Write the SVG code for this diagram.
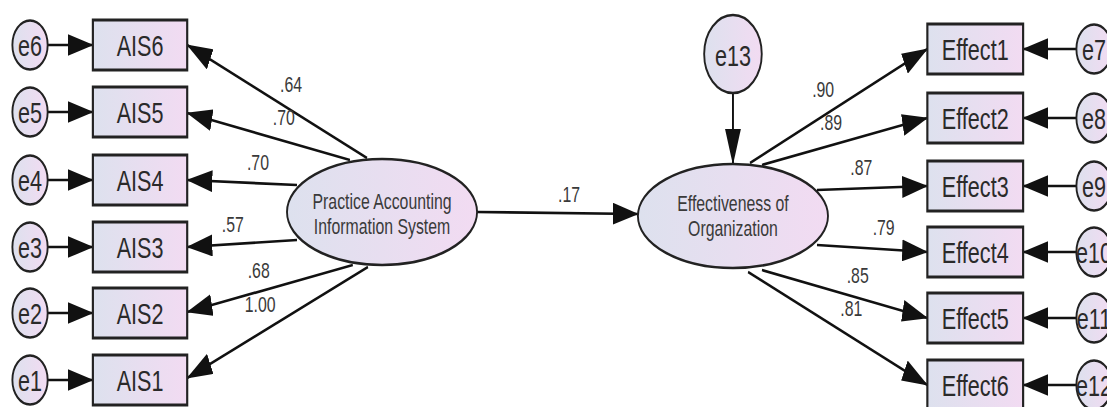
<svg xmlns="http://www.w3.org/2000/svg" width="1107" height="407" viewBox="0 0 1107 407">
<defs>
<linearGradient id="fill" x1="0" y1="0" x2="1" y2="0">
<stop offset="0" stop-color="#dde1ee"/>
<stop offset="1" stop-color="#f2dbf2"/>
</linearGradient>
<marker id="arr" markerUnits="userSpaceOnUse" markerWidth="36" markerHeight="22" viewBox="0 0 36 22" refX="35" refY="11" orient="auto">
<path d="M0,0 L36,11 L0,22 z" fill="#111"/>
</marker>
<style>
.box{fill:url(#fill);stroke:#222;stroke-width:3}
.ell{fill:url(#fill);stroke:#222;stroke-width:2.6}
.lbl{font-family:"Liberation Sans",Arial,sans-serif;font-size:30px;fill:#2a2a2a;text-anchor:middle}
.lat{font-family:"Liberation Sans",Arial,sans-serif;font-size:22px;fill:#3a3a3a;text-anchor:middle}
.num{font-family:"Liberation Sans",Arial,sans-serif;font-size:22px;fill:#3a3a3a}
.con line{stroke:#111;stroke-width:2.7;marker-end:url(#arr)}
</style>
</defs>
<rect width="1107" height="407" fill="#fff"/>
<g transform="scale(0.72,1)">
<g id="connectors" class="con">
<line x1="66" y1="45" x2="129" y2="45"/>
<line x1="66" y1="112" x2="129" y2="112"/>
<line x1="66" y1="180" x2="129" y2="180"/>
<line x1="66" y1="247" x2="129" y2="247"/>
<line x1="66" y1="313" x2="129" y2="313"/>
<line x1="66" y1="380" x2="129" y2="380"/>
<line x1="509.7" y1="158" x2="260" y2="45"/>
<line x1="486" y1="160" x2="260" y2="113"/>
<line x1="412.5" y1="185" x2="260" y2="180"/>
<line x1="412.5" y1="240" x2="260" y2="247"/>
<line x1="490" y1="265" x2="260" y2="312"/>
<line x1="511" y1="267" x2="260" y2="378"/>
<line x1="662.5" y1="212" x2="886" y2="214"/>
<line x1="1018" y1="93" x2="1018" y2="164"/>
<line x1="1041.7" y1="163" x2="1288" y2="49"/>
<line x1="1058.3" y1="165" x2="1288" y2="118"/>
<line x1="1134.7" y1="190" x2="1288" y2="186"/>
<line x1="1134.7" y1="245" x2="1288" y2="252"/>
<line x1="1058.3" y1="270" x2="1288" y2="318"/>
<line x1="1039" y1="272" x2="1288" y2="385"/>
<line x1="1495" y1="49" x2="1421" y2="49"/>
<line x1="1495" y1="118" x2="1421" y2="118"/>
<line x1="1495" y1="186" x2="1421" y2="186"/>
<line x1="1495" y1="252" x2="1421" y2="252"/>
<line x1="1495" y1="318" x2="1421" y2="318"/>
<line x1="1495" y1="385" x2="1421" y2="385"/>
</g>
<g id="weights">
<text class="num" x="389" y="92">.64</text>
<text class="num" x="379" y="125">.70</text>
<text class="num" x="343" y="170">.70</text>
<text class="num" x="308" y="232">.57</text>
<text class="num" x="344" y="278">.68</text>
<text class="num" x="340" y="312">1.00</text>
<text class="num" x="775" y="202">.17</text>
<text class="num" x="1128" y="97">.90</text>
<text class="num" x="1139" y="130">.89</text>
<text class="num" x="1181" y="175">.87</text>
<text class="num" x="1212" y="235">.79</text>
<text class="num" x="1176" y="283">.85</text>
<text class="num" x="1167" y="316">.81</text>
</g>
<g id="e6"><circle class="ell" cx="41.7" cy="45" r="24.5"/><text class="lbl" x="41.7" y="56">e6</text></g>
<g id="e5"><circle class="ell" cx="41.7" cy="112" r="24.5"/><text class="lbl" x="41.7" y="123">e5</text></g>
<g id="e4"><circle class="ell" cx="41.7" cy="180" r="24.5"/><text class="lbl" x="41.7" y="191">e4</text></g>
<g id="e3"><circle class="ell" cx="41.7" cy="247" r="24.5"/><text class="lbl" x="41.7" y="258">e3</text></g>
<g id="e2"><circle class="ell" cx="41.7" cy="313" r="24.5"/><text class="lbl" x="41.7" y="324">e2</text></g>
<g id="e1"><circle class="ell" cx="41.7" cy="380" r="24.5"/><text class="lbl" x="41.7" y="391">e1</text></g>
<g id="AIS6"><rect class="box" x="129" y="20" width="131" height="50"/><text class="lbl" x="194.5" y="56">AIS6</text></g>
<g id="AIS5"><rect class="box" x="129" y="87" width="131" height="50"/><text class="lbl" x="194.5" y="123">AIS5</text></g>
<g id="AIS4"><rect class="box" x="129" y="155" width="131" height="50"/><text class="lbl" x="194.5" y="191">AIS4</text></g>
<g id="AIS3"><rect class="box" x="129" y="222" width="131" height="50"/><text class="lbl" x="194.5" y="258">AIS3</text></g>
<g id="AIS2"><rect class="box" x="129" y="288" width="131" height="50"/><text class="lbl" x="194.5" y="324">AIS2</text></g>
<g id="AIS1"><rect class="box" x="129" y="355" width="131" height="50"/><text class="lbl" x="194.5" y="391">AIS1</text></g>
<g id="PAIS"><ellipse class="ell" cx="530.6" cy="212" rx="132" ry="53"/><text class="lat" x="530.6" y="209">Practice Accounting</text><text class="lat" x="530.6" y="234">Information System</text></g>
<g id="EOO"><ellipse class="ell" cx="1018" cy="216" rx="132" ry="52"/><text class="lat" x="1018" y="211">Effectiveness of</text><text class="lat" x="1018" y="236">Organization</text></g>
<g id="e13"><ellipse class="ell" cx="1018" cy="54" rx="40" ry="39"/><text class="lbl" x="1018" y="66">e13</text></g>
<g id="Effect1"><rect class="box" x="1288" y="24" width="133" height="50"/><text class="lbl" x="1354.5" y="60">Effect1</text></g>
<g id="Effect2"><rect class="box" x="1288" y="93" width="133" height="50"/><text class="lbl" x="1354.5" y="129">Effect2</text></g>
<g id="Effect3"><rect class="box" x="1288" y="161" width="133" height="50"/><text class="lbl" x="1354.5" y="197">Effect3</text></g>
<g id="Effect4"><rect class="box" x="1288" y="227" width="133" height="50"/><text class="lbl" x="1354.5" y="263">Effect4</text></g>
<g id="Effect5"><rect class="box" x="1288" y="293" width="133" height="50"/><text class="lbl" x="1354.5" y="329">Effect5</text></g>
<g id="Effect6"><rect class="box" x="1288" y="360" width="133" height="50"/><text class="lbl" x="1354.5" y="396">Effect6</text></g>
<g id="e7"><circle class="ell" cx="1519.5" cy="49" r="24.5"/><text class="lbl" x="1519.5" y="60">e7</text></g>
<g id="e8"><circle class="ell" cx="1519.5" cy="118" r="24.5"/><text class="lbl" x="1519.5" y="129">e8</text></g>
<g id="e9"><circle class="ell" cx="1519.5" cy="186" r="24.5"/><text class="lbl" x="1519.5" y="197">e9</text></g>
<g id="e10"><circle class="ell" cx="1519.5" cy="252" r="24.5"/><text class="lbl" x="1519.5" y="263">e10</text></g>
<g id="e11"><circle class="ell" cx="1519.5" cy="318" r="24.5"/><text class="lbl" x="1519.5" y="329">e11</text></g>
<g id="e12"><circle class="ell" cx="1519.5" cy="385" r="24.5"/><text class="lbl" x="1519.5" y="396">e12</text></g>
</g>
</svg>
